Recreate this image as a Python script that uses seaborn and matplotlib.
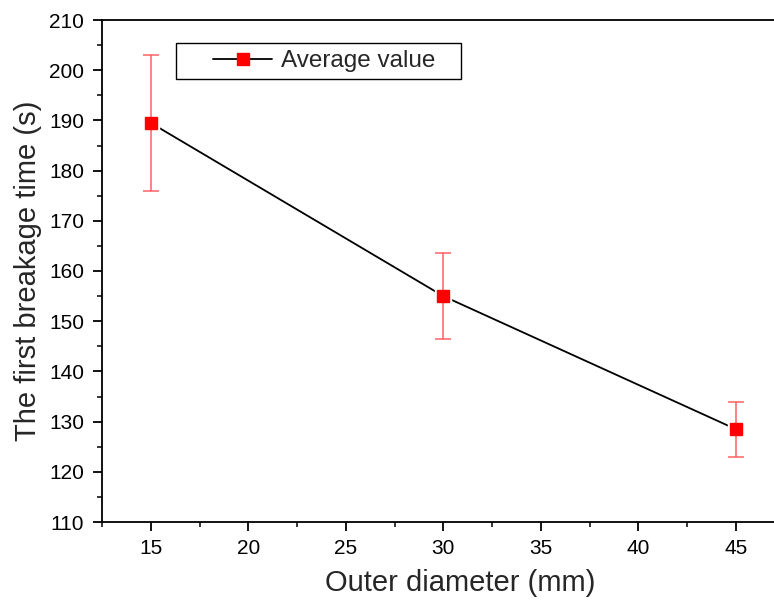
import matplotlib
matplotlib.use("Agg")
import matplotlib.pyplot as plt
import seaborn as sns
import pandas as pd
from matplotlib.ticker import MultipleLocator
from matplotlib.lines import Line2D
from matplotlib.patches import Rectangle

sns.set_style("ticks")
plt.rcParams['font.family'] = ['Liberation Sans', 'DejaVu Sans']

diameters = [15, 30, 45]
avg_time = [189.5, 155.0, 128.5]
err_time = [13.5, 8.5, 5.5]
series_label = "Average value"

df = pd.DataFrame({"d": diameters, "t": avg_time, "e": err_time})

W, H = 774, 602
fig = plt.figure(figsize=(W/100, H/100), dpi=100)
ax = fig.add_axes([102/W, 80/H, 682.5/W, 502/H])

sns.lineplot(data=df, x="d", y="t", ax=ax, color="black", lw=1.3, zorder=1)
# white halo to create gap between line and marker
ax.plot(df["d"], df["t"], ls="none", marker="s", ms=12, mfc="white", mec="white", zorder=2)
ax.errorbar(df["d"], df["t"], yerr=df["e"], fmt="none", ecolor="#ff4d4d", alpha=0.75,
            elinewidth=1.3, capsize=5.5, capthick=1.3, zorder=3)
ax.plot(df["d"], df["t"], ls="none", marker="s", ms=8.5, mfc="#ff0000", mec="#ff0000", zorder=4)

ax.set_xlim(12.5, 47.5)
ax.set_ylim(110, 210)
ax.xaxis.set_major_locator(MultipleLocator(5))
ax.xaxis.set_minor_locator(MultipleLocator(2.5))
ax.yaxis.set_major_locator(MultipleLocator(10))
ax.yaxis.set_minor_locator(MultipleLocator(5))
ax.tick_params(which="major", direction="out", length=6.5, width=1.3, labelsize=15, colors="black")
ax.tick_params(axis="x", which="major", pad=6)
ax.tick_params(axis="y", which="major", pad=6.5)
ax.tick_params(which="minor", direction="out", length=3.6, width=1.3)
ax.tick_params(top=False, right=False, which="both")

for s in ["left", "bottom", "top"]:
    ax.spines[s].set_linewidth(1.3)
    ax.spines[s].set_color("black")
ax.spines["right"].set_visible(False)

ax.set_xlabel("Outer diameter (mm)", fontsize=21)
ax.xaxis.set_label_coords(358/682.5, -61/502)
ax.xaxis.label.set_va("center")
ax.set_ylabel("The first breakage time (s)", fontsize=21, labelpad=5)

# legend frame
fig.patches.append(Rectangle((176/W, (H-79)/H), 285/W, 36/H, transform=fig.transFigure,
                             fill=False, edgecolor="black", lw=1.0, zorder=10))
handle = Line2D([], [], color="black", lw=1.3, marker="s", ms=8.5, mfc="#ff0000", mec="#ff0000")
leg = ax.legend([handle], [series_label], loc="center left",
                bbox_to_anchor=(213/W, (H-61)/H), bbox_transform=fig.transFigure,
                fontsize=17.5, frameon=False, handlelength=2.43, borderpad=0,
                handletextpad=0.37, borderaxespad=0)

fig.savefig("out.png", dpi=100)
